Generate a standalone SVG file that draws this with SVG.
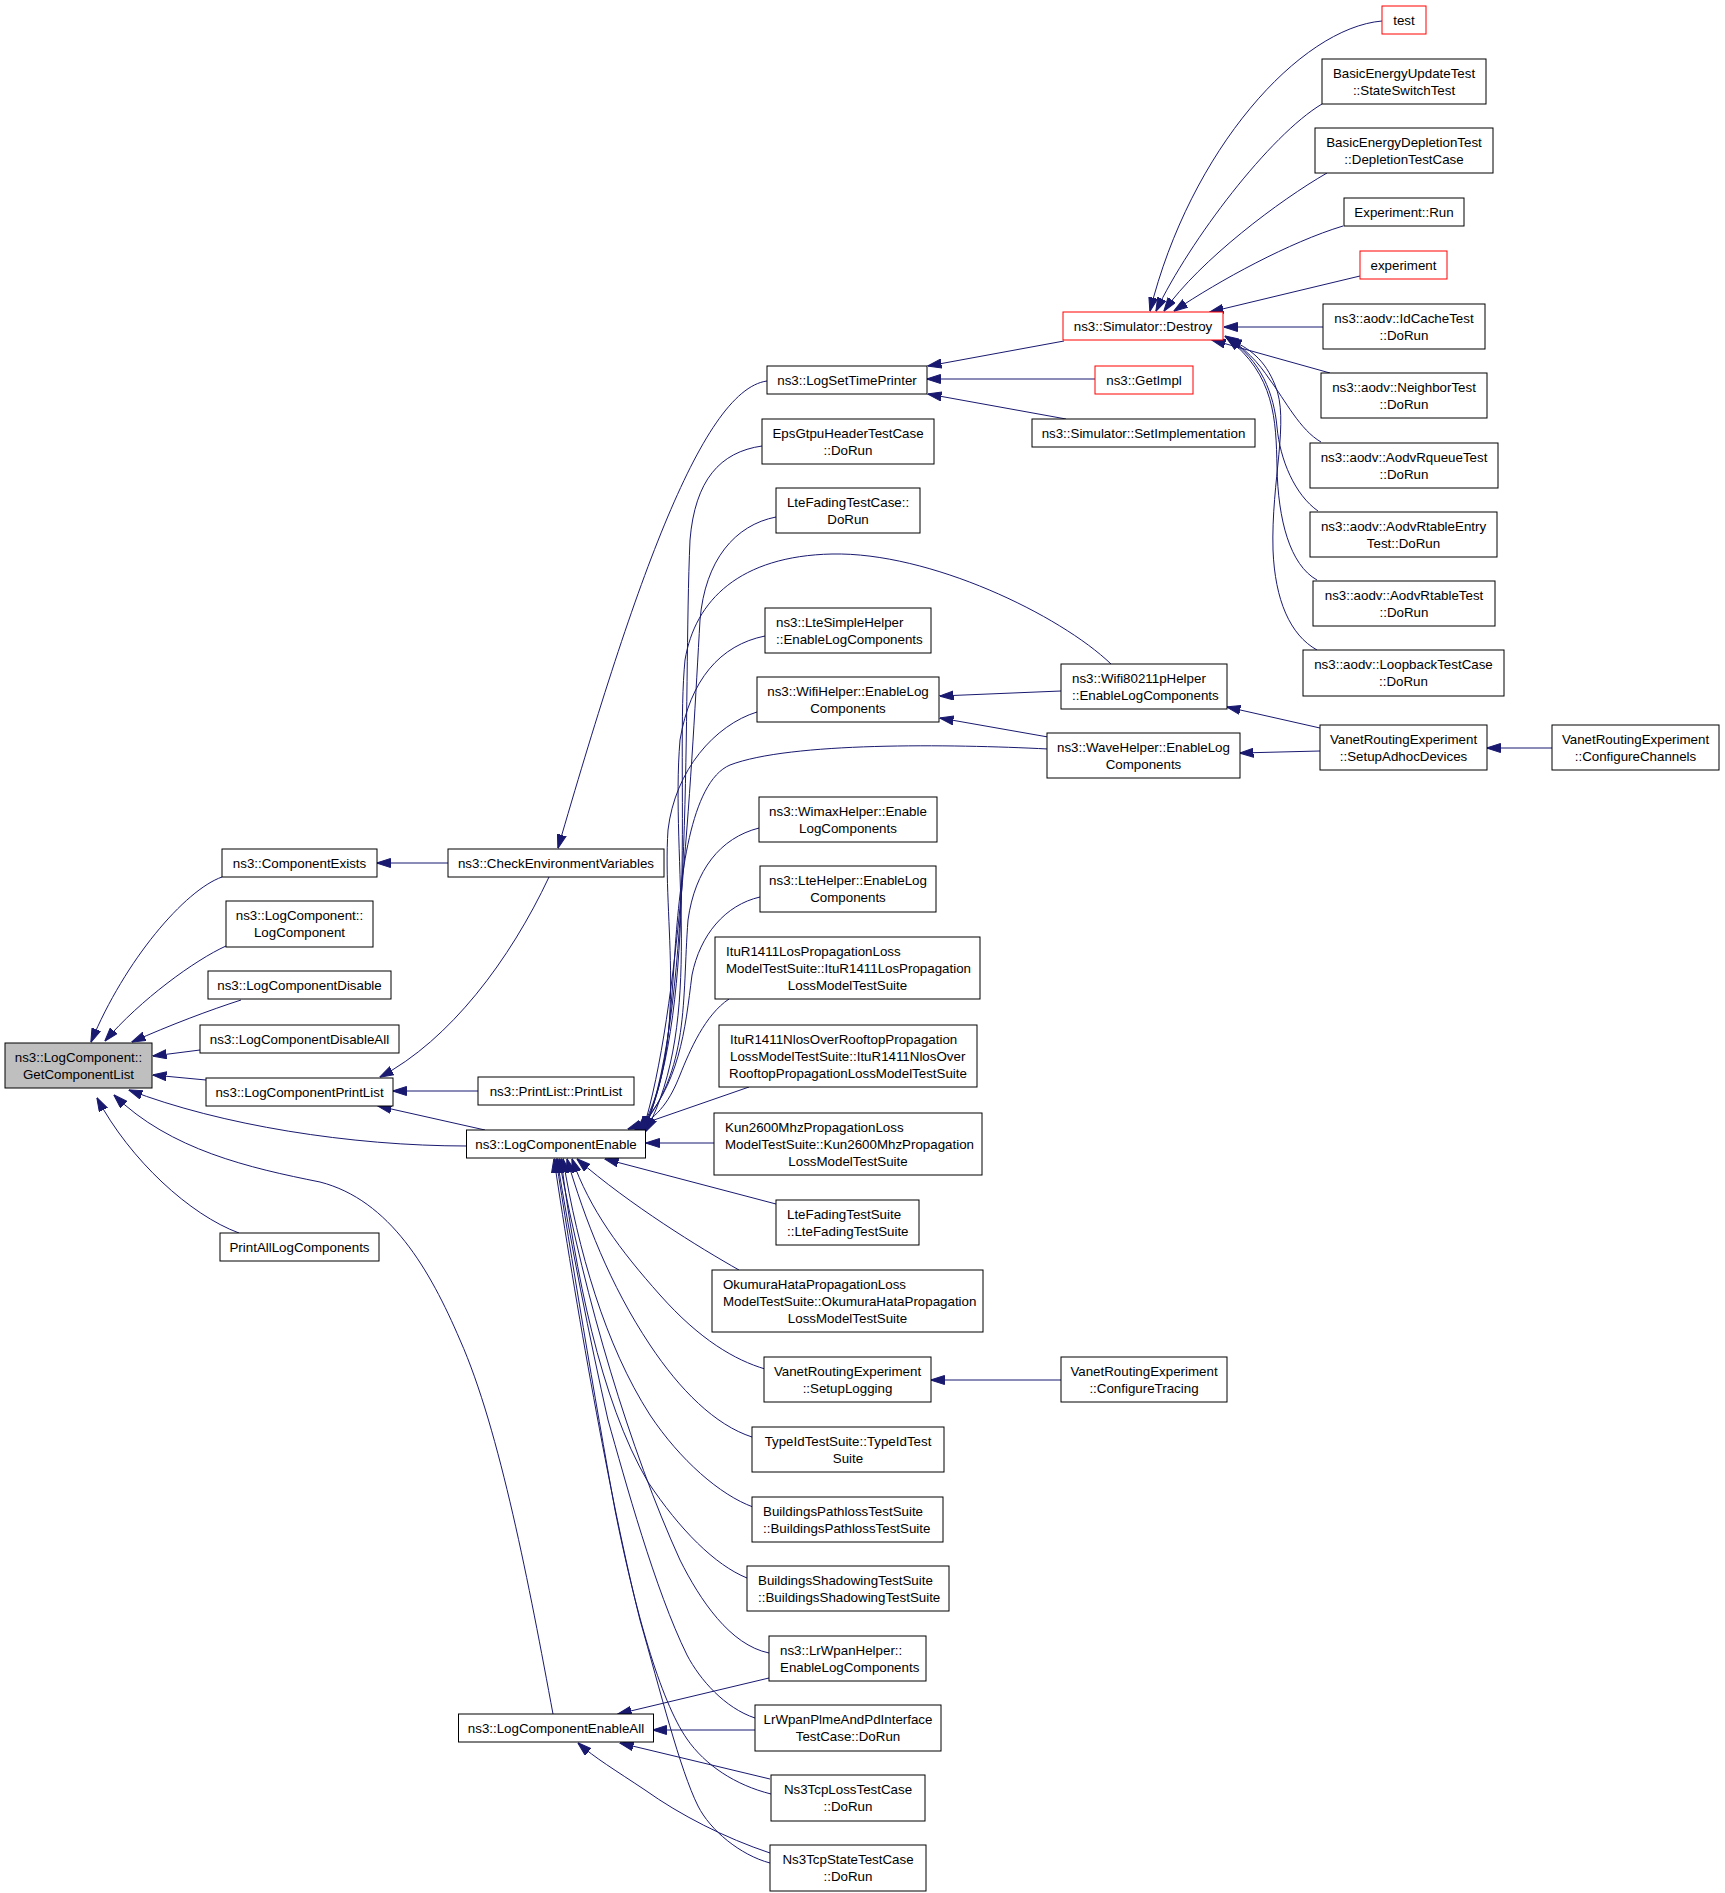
<svg xmlns="http://www.w3.org/2000/svg" width="1725" height="1893" viewBox="0 0 1725 1893">
<style>
.node rect{fill:#ffffff;stroke:#000000;stroke-width:1}
.node.red rect{stroke:#ff0000}
.node.grey rect{fill:#bfbfbf}
text{font-family:"Liberation Sans",Arial,Helvetica,sans-serif;font-size:13.33px;fill:#000000}
.c{text-anchor:middle}
#edges path{fill:none;stroke:#191970;stroke-width:1;marker-end:url(#arr)}
</style>
<defs>
<marker id="arr" viewBox="0 0 14 10" markerWidth="14" markerHeight="10" refX="13.5" refY="5" orient="auto" markerUnits="userSpaceOnUse">
<path d="M0,0.5 L14,5 L0,9.5 z" fill="#191970" stroke="#191970" stroke-width="1"/>
</marker>
</defs>
<rect x="0" y="0" width="1725" height="1893" fill="#ffffff"/>
<g id="edges">
<path d="M222,877 C185,890 125,960 91,1042"/>
<path d="M226,946 C195,960 140,1000 105,1041"/>
<path d="M241,1000 C210,1010 170,1025 132,1042"/>
<path d="M200,1050 L153,1056"/>
<path d="M206,1080 L153,1075"/>
<path d="M467,1146 C350,1146 220,1125 129,1090"/>
<path d="M553,1714 C530,1590 500,1430 460,1340 C430,1270 390,1200 320,1182 C250,1168 170,1150 114,1095"/>
<path d="M239,1233 C190,1215 130,1160 97,1098"/>
<path d="M448,863 L377,863"/>
<path d="M767,381 C700,390 630,600 558,848"/>
<path d="M549,877 C510,960 450,1040 380,1077"/>
<path d="M478,1091 L393,1091"/>
<path d="M485,1130 L378,1106"/>
<path d="M1064,341 L928,366"/>
<path d="M1095,379 L927,379"/>
<path d="M1066,419 L928,394"/>
<path d="M1382,21 C1300,28 1190,150 1150,311"/>
<path d="M1322,104 C1270,135 1190,240 1156,311"/>
<path d="M1327,173 C1280,200 1200,260 1164,311"/>
<path d="M1343,226 C1290,242 1220,280 1174,311"/>
<path d="M1360,276 L1210,312"/>
<path d="M1323,327 L1224,327"/>
<path d="M1330,373 L1212,340"/>
<path d="M1321,442 C1300,430 1285,400 1270,380 C1258,362 1245,348 1225,336"/>
<path d="M1318,511 C1295,495 1280,460 1277,427 C1274,395 1262,360 1226,337"/>
<path d="M1317,580 C1290,565 1278,520 1277,467 C1276,420 1275,375 1227,338"/>
<path d="M1317,650 C1290,635 1275,600 1273,550 C1271,480 1290,420 1275,385 C1265,360 1250,348 1228,339"/>
<path d="M1061,691 L940,696"/>
<path d="M1048,737 L940,718"/>
<path d="M1320,728 L1227,707"/>
<path d="M1320,751 L1240,753"/>
<path d="M1552,748 L1487,748"/>
<path d="M1111,664 C1060,615 930,552 832,554 C740,556 695,600 685,660 C675,760 700,1000 644,1130"/>
<path d="M1048,749 C950,744 790,742 730,765 C690,782 680,880 675,950 C670,1030 665,1090 642,1130"/>
<path d="M762,446 C720,452 695,480 690,540 C683,700 695,1000 645,1130"/>
<path d="M776,517 C735,525 705,560 700,620 C692,760 680,1010 643,1130"/>
<path d="M765,636 C720,645 690,680 680,740 C670,860 705,1020 646,1131"/>
<path d="M757,712 C715,725 675,770 668,830 C662,920 690,1040 641,1130"/>
<path d="M759,828 C720,838 695,870 688,920 C682,1000 690,1070 639,1130"/>
<path d="M760,897 C725,905 700,935 692,975 C685,1030 680,1085 637,1130"/>
<path d="M729,999 C705,1015 690,1050 680,1075 C670,1100 660,1115 635,1130"/>
<path d="M749,1087 L628,1129"/>
<path d="M714,1143 L646,1143"/>
<path d="M776,1204 L605,1159"/>
<path d="M739,1270 C700,1248 630,1205 577,1159"/>
<path d="M765,1369 C735,1360 700,1340 660,1295 C620,1250 590,1210 572,1159"/>
<path d="M752,1437 C715,1425 680,1390 650,1345 C610,1285 585,1220 567,1159"/>
<path d="M753,1507 C720,1495 680,1460 650,1415 C605,1345 578,1250 563,1159"/>
<path d="M747,1578 C715,1565 680,1530 648,1482 C600,1400 575,1270 561,1159"/>
<path d="M769,1653 C730,1645 700,1600 680,1560 C630,1450 585,1300 559,1159"/>
<path d="M755,1718 C725,1708 700,1680 687,1655 C655,1590 625,1480 608,1420 C590,1340 570,1240 557,1159"/>
<path d="M771,1794 C735,1785 705,1765 687,1739 C660,1700 635,1610 615,1510 C595,1400 570,1250 556,1159"/>
<path d="M770,1863 C740,1855 710,1830 698,1806 C680,1770 660,1690 640,1620 C610,1500 575,1300 554,1159"/>
<path d="M1061,1380 L931,1380"/>
<path d="M769,1678 L618,1714"/>
<path d="M755,1730 L653,1730"/>
<path d="M770,1779 L620,1743"/>
<path d="M770,1853 C725,1838 680,1815 645,1790 C615,1770 595,1758 578,1743"/>
</g>
<g id="n_gcl" class="node grey"><rect x="5" y="1043" width="147" height="45"/><text class="c" x="78.5" y="1061.5">ns3::LogComponent::</text><text class="c" x="78.5" y="1078.5">GetComponentList</text></g>
<g id="n_ce" class="node"><rect x="222" y="849" width="155" height="28"/><text class="c" x="299.5" y="867.5">ns3::ComponentExists</text></g>
<g id="n_lclc" class="node"><rect x="226" y="901" width="147" height="46"/><text class="c" x="299.5" y="920">ns3::LogComponent::</text><text class="c" x="299.5" y="937">LogComponent</text></g>
<g id="n_lcd" class="node"><rect x="208" y="971" width="183" height="28"/><text class="c" x="299.5" y="989.5">ns3::LogComponentDisable</text></g>
<g id="n_lcda" class="node"><rect x="200" y="1025" width="199" height="28"/><text class="c" x="299.5" y="1043.5">ns3::LogComponentDisableAll</text></g>
<g id="n_lcpl" class="node"><rect x="206" y="1078" width="187" height="28"/><text class="c" x="299.5" y="1096.5">ns3::LogComponentPrintList</text></g>
<g id="n_pal" class="node"><rect x="220" y="1233" width="159" height="28"/><text class="c" x="299.5" y="1251.5">PrintAllLogComponents</text></g>
<g id="n_cev" class="node"><rect x="448" y="849" width="216" height="28"/><text class="c" x="556" y="867.5">ns3::CheckEnvironmentVariables</text></g>
<g id="n_pl" class="node"><rect x="478" y="1077" width="156" height="28"/><text class="c" x="556" y="1095.5">ns3::PrintList::PrintList</text></g>
<g id="n_lce" class="node"><rect x="466.5" y="1130" width="179" height="28"/><text class="c" x="556" y="1148.5">ns3::LogComponentEnable</text></g>
<g id="n_lcea" class="node"><rect x="458.5" y="1714" width="195" height="28"/><text class="c" x="556" y="1732.5">ns3::LogComponentEnableAll</text></g>
<g id="n_lstp" class="node"><rect x="767" y="366" width="160" height="28"/><text class="c" x="847" y="384.5">ns3::LogSetTimePrinter</text></g>
<g id="n_eps" class="node"><rect x="762" y="419" width="172" height="45"/><text class="c" x="848" y="437.5">EpsGtpuHeaderTestCase</text><text class="c" x="848" y="454.5">::DoRun</text></g>
<g id="n_lftc" class="node"><rect x="776" y="488" width="144" height="45"/><text class="c" x="848" y="506.5">LteFadingTestCase::</text><text class="c" x="848" y="523.5">DoRun</text></g>
<g id="n_lsh" class="node"><rect x="765" y="608" width="166" height="45"/><text x="776" y="626.5">ns3::LteSimpleHelper</text><text x="776" y="643.5">::EnableLogComponents</text></g>
<g id="n_wh" class="node"><rect x="757" y="677" width="182" height="45"/><text class="c" x="848" y="695.5">ns3::WifiHelper::EnableLog</text><text class="c" x="848" y="712.5">Components</text></g>
<g id="n_wmx" class="node"><rect x="759" y="797" width="178" height="45"/><text class="c" x="848" y="815.5">ns3::WimaxHelper::Enable</text><text class="c" x="848" y="832.5">LogComponents</text></g>
<g id="n_lth" class="node"><rect x="760" y="866" width="176" height="46"/><text class="c" x="848" y="885">ns3::LteHelper::EnableLog</text><text class="c" x="848" y="902">Components</text></g>
<g id="n_itulos" class="node"><rect x="715" y="937" width="265" height="62"/><text x="726" y="955.5">ItuR1411LosPropagationLoss</text><text x="726" y="972.5">ModelTestSuite::ItuR1411LosPropagation</text><text class="c" x="847.5" y="989.5">LossModelTestSuite</text></g>
<g id="n_itunlos" class="node"><rect x="719" y="1025" width="258" height="62"/><text x="730" y="1043.5">ItuR1411NlosOverRooftopPropagation</text><text x="730" y="1060.5">LossModelTestSuite::ItuR1411NlosOver</text><text class="c" x="848" y="1077.5">RooftopPropagationLossModelTestSuite</text></g>
<g id="n_kun" class="node"><rect x="714" y="1113" width="268" height="62"/><text x="725" y="1131.5">Kun2600MhzPropagationLoss</text><text x="725" y="1148.5">ModelTestSuite::Kun2600MhzPropagation</text><text class="c" x="848" y="1165.5">LossModelTestSuite</text></g>
<g id="n_lfts" class="node"><rect x="776" y="1200" width="143" height="45"/><text x="787" y="1218.5">LteFadingTestSuite</text><text x="787" y="1235.5">::LteFadingTestSuite</text></g>
<g id="n_oku" class="node"><rect x="712" y="1270" width="271" height="62"/><text x="723" y="1288.5">OkumuraHataPropagationLoss</text><text x="723" y="1305.5">ModelTestSuite::OkumuraHataPropagation</text><text class="c" x="847.5" y="1322.5">LossModelTestSuite</text></g>
<g id="n_vsl" class="node"><rect x="764" y="1357" width="167" height="45"/><text class="c" x="847.5" y="1375.5">VanetRoutingExperiment</text><text class="c" x="847.5" y="1392.5">::SetupLogging</text></g>
<g id="n_tid" class="node"><rect x="752" y="1427" width="192" height="45"/><text class="c" x="848" y="1445.5">TypeIdTestSuite::TypeIdTest</text><text class="c" x="848" y="1462.5">Suite</text></g>
<g id="n_bpl" class="node"><rect x="752" y="1497" width="191" height="45"/><text x="763" y="1515.5">BuildingsPathlossTestSuite</text><text x="763" y="1532.5">::BuildingsPathlossTestSuite</text></g>
<g id="n_bsh" class="node"><rect x="747" y="1566" width="202" height="45"/><text x="758" y="1584.5">BuildingsShadowingTestSuite</text><text x="758" y="1601.5">::BuildingsShadowingTestSuite</text></g>
<g id="n_lrh" class="node"><rect x="769" y="1636" width="157" height="45"/><text x="780" y="1654.5">ns3::LrWpanHelper::</text><text x="780" y="1671.5">EnableLogComponents</text></g>
<g id="n_lrp" class="node"><rect x="755" y="1705" width="186" height="46"/><text class="c" x="848" y="1724">LrWpanPlmeAndPdInterface</text><text class="c" x="848" y="1741">TestCase::DoRun</text></g>
<g id="n_tcpl" class="node"><rect x="771" y="1775" width="154" height="46"/><text class="c" x="848" y="1794">Ns3TcpLossTestCase</text><text class="c" x="848" y="1811">::DoRun</text></g>
<g id="n_tcps" class="node"><rect x="770" y="1845" width="156" height="46"/><text class="c" x="848" y="1864">Ns3TcpStateTestCase</text><text class="c" x="848" y="1881">::DoRun</text></g>
<g id="n_destroy" class="node red"><rect x="1063" y="312" width="160" height="28"/><text class="c" x="1143" y="330.5">ns3::Simulator::Destroy</text></g>
<g id="n_getimpl" class="node red"><rect x="1095" y="366" width="98" height="28"/><text class="c" x="1144" y="384.5">ns3::GetImpl</text></g>
<g id="n_setimpl" class="node"><rect x="1032" y="419" width="223" height="28"/><text class="c" x="1143.5" y="437.5">ns3::Simulator::SetImplementation</text></g>
<g id="n_w80211p" class="node"><rect x="1061" y="664" width="166" height="45"/><text x="1072" y="682.5">ns3::Wifi80211pHelper</text><text x="1072" y="699.5">::EnableLogComponents</text></g>
<g id="n_wave" class="node"><rect x="1047" y="733" width="193" height="45"/><text class="c" x="1143.5" y="751.5">ns3::WaveHelper::EnableLog</text><text class="c" x="1143.5" y="768.5">Components</text></g>
<g id="n_vct" class="node"><rect x="1061" y="1357" width="166" height="45"/><text class="c" x="1144" y="1375.5">VanetRoutingExperiment</text><text class="c" x="1144" y="1392.5">::ConfigureTracing</text></g>
<g id="n_test" class="node red"><rect x="1382" y="6" width="44" height="28"/><text class="c" x="1404" y="24.5">test</text></g>
<g id="n_beut" class="node"><rect x="1322" y="59" width="164" height="45"/><text class="c" x="1404" y="77.5">BasicEnergyUpdateTest</text><text class="c" x="1404" y="94.5">::StateSwitchTest</text></g>
<g id="n_bedt" class="node"><rect x="1315" y="128" width="178" height="45"/><text class="c" x="1404" y="146.5">BasicEnergyDepletionTest</text><text class="c" x="1404" y="163.5">::DepletionTestCase</text></g>
<g id="n_exprun" class="node"><rect x="1344" y="198" width="120" height="28"/><text class="c" x="1404" y="216.5">Experiment::Run</text></g>
<g id="n_exp" class="node red"><rect x="1360" y="251" width="87" height="28"/><text class="c" x="1403.5" y="269.5">experiment</text></g>
<g id="n_idc" class="node"><rect x="1323" y="304" width="162" height="45"/><text class="c" x="1404" y="322.5">ns3::aodv::IdCacheTest</text><text class="c" x="1404" y="339.5">::DoRun</text></g>
<g id="n_nbr" class="node"><rect x="1321" y="373" width="166" height="45"/><text class="c" x="1404" y="391.5">ns3::aodv::NeighborTest</text><text class="c" x="1404" y="408.5">::DoRun</text></g>
<g id="n_rq" class="node"><rect x="1310" y="443" width="188" height="45"/><text class="c" x="1404" y="461.5">ns3::aodv::AodvRqueueTest</text><text class="c" x="1404" y="478.5">::DoRun</text></g>
<g id="n_rte" class="node"><rect x="1310" y="512" width="187" height="45"/><text class="c" x="1403.5" y="530.5">ns3::aodv::AodvRtableEntry</text><text class="c" x="1403.5" y="547.5">Test::DoRun</text></g>
<g id="n_rt" class="node"><rect x="1313" y="581" width="182" height="45"/><text class="c" x="1404" y="599.5">ns3::aodv::AodvRtableTest</text><text class="c" x="1404" y="616.5">::DoRun</text></g>
<g id="n_lb" class="node"><rect x="1303" y="650" width="201" height="46"/><text class="c" x="1403.5" y="669">ns3::aodv::LoopbackTestCase</text><text class="c" x="1403.5" y="686">::DoRun</text></g>
<g id="n_sad" class="node"><rect x="1320" y="725" width="167" height="45"/><text class="c" x="1403.5" y="743.5">VanetRoutingExperiment</text><text class="c" x="1403.5" y="760.5">::SetupAdhocDevices</text></g>
<g id="n_cc" class="node"><rect x="1552" y="725" width="167" height="45"/><text class="c" x="1635.5" y="743.5">VanetRoutingExperiment</text><text class="c" x="1635.5" y="760.5">::ConfigureChannels</text></g>
</svg>
